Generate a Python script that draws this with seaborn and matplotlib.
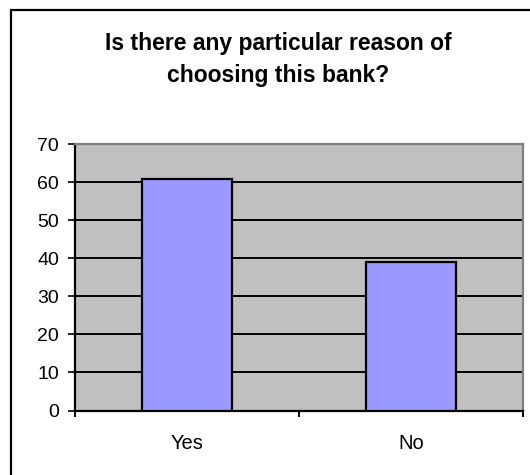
import matplotlib
matplotlib.use("Agg")
import matplotlib.pyplot as plt
from matplotlib.patches import Rectangle
from matplotlib.ticker import FixedLocator
import seaborn as sns
import pandas as pd

answers = ["Yes", "No"]
counts = [61, 39]
y_ticks = [0, 10, 20, 30, 40, 50, 60, 70]
title_lines = ["Is there any particular reason of", "choosing this bank?"]

sns.set_style("ticks")
plt.rcParams["font.family"] = ["Liberation Sans", "DejaVu Sans"]
plt.rcParams["text.color"] = "black"
plt.rcParams["xtick.color"] = "black"
plt.rcParams["ytick.color"] = "black"
plt.rcParams["xtick.labelcolor"] = "black"
plt.rcParams["ytick.labelcolor"] = "black"

df = pd.DataFrame({"answer": answers, "count": counts})

W, H = 530, 475
fig = plt.figure(figsize=(W / 100, H / 100), dpi=100)
fig.patch.set_facecolor("white")

# chart frame (extends past right/bottom edge)
fig.patches.append(Rectangle((11 / W, -0.05), 1.2, 1 - 10 / H + 0.05,
                             transform=fig.transFigure, fill=False,
                             edgecolor="black", linewidth=1.6, zorder=0))

ax = fig.add_axes([75 / W, 1 - 410.5 / H, (523 - 75) / W, (410.5 - 144.3) / H])
ax.set_facecolor("#C0C0C0")

sns.barplot(data=df, x="answer", y="count", ax=ax, color="#9999FF",
            width=0.4, edgecolor="black", linewidth=1.6, saturation=1,
            zorder=3)

ax.set_ylim(0, 70)
ax.set_xlim(-0.5, 1.5)
ax.set_yticks(y_ticks)
for v in y_ticks[1:-1]:
    ax.axhline(v, color="black", linewidth=1.4, zorder=1)

ax.set_xlabel("")
ax.set_ylabel("")
ax.tick_params(axis="y", direction="out", length=5, width=1.2,
               labelsize=14, pad=6.5, color="black", labelcolor="black")
ax.tick_params(axis="x", which="major", length=0, labelsize=14.5, pad=17,
               labelcolor="black")
ax.xaxis.set_minor_locator(FixedLocator([-0.5, 0.5, 1.5]))
ax.tick_params(axis="x", which="minor", direction="out", length=4.5, width=1.4,
               color="black")

for side in ["left", "bottom"]:
    ax.spines[side].set_color("black")
    ax.spines[side].set_linewidth(1.6)
for side in ["top", "right"]:
    ax.spines[side].set_visible(True)
    ax.spines[side].set_color("#808080")
    ax.spines[side].set_linewidth(1.6)

for line, base in zip(title_lines, [50, 82]):
    fig.text(278 / W, 1 - base / H, line, ha="center", va="baseline",
             fontsize=16.5, fontweight="bold", color="black")

fig.savefig("out.png", dpi=100)
